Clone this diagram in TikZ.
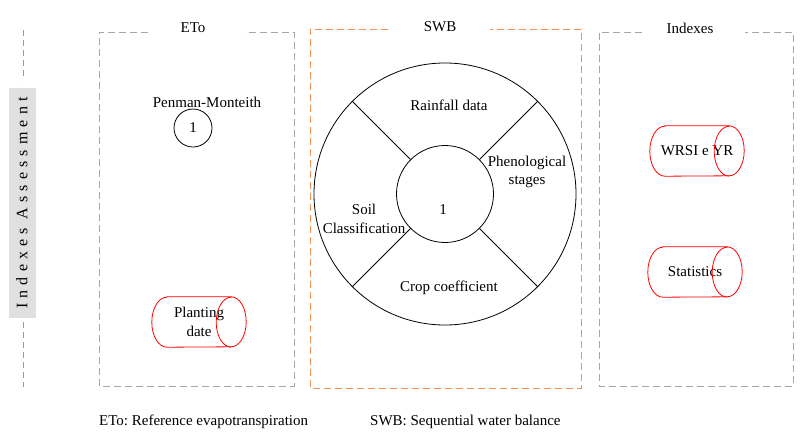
\documentclass[tikz,border=0pt]{standalone}
\usepackage{fontspec}
\setmainfont{Liberation Serif}
\frenchspacing

\definecolor{swborange}{RGB}{243,146,85}
\definecolor{sideblue}{RGB}{110,165,220}

\begin{document}
\begin{tikzpicture}[x=1pt, y=-1pt,
    every node/.style={font=\fontsize{15}{18.5}\selectfont},
    greyframe/.style={draw=black!35, dash pattern=on 7pt off 4pt, line width=0.9pt},
    orangeframe/.style={draw=swborange, dash pattern=on 7pt off 4pt, line width=1pt},
    sideline/.style={draw=sideblue, dash pattern=on 6pt off 4pt, line width=0.8pt},
    datastore/.style={align=center, minimum width=94pt, minimum height=50pt, inner sep=0pt},
    storeline/.style={draw=red, line width=0.8pt}]
    \useasboundingbox (0,0) rectangle (800,434);

    % side label
    \node[rotate=90, fill=black!12, minimum width=230pt, minimum height=27pt, inner sep=0pt,
        font=\fontsize{16}{18}\selectfont] (side) at (22,203) {\addfontfeature{LetterSpace=32}Indexes Assessment};
    \draw[sideline] (23,30) -- (23,80);
    \draw[sideline] (23,322) -- (23,387);

    % frames with titles
    \draw[greyframe] (148,32) -| (99,386) -| (294,32) -- (245,32);
    \draw[orangeframe] (388,29) -| (310,388) -| (581,29) -- (490,29);
    \draw[greyframe] (642,32) -| (599,386) -| (793,32) -- (745,32);
    \node (etotitle) at (193,28) {ETo};
    \node (swbtitle) at (440,27) {SWB};
    \node (idxtitle) at (690,28) {Indexes};

    % ETo
    \node (penman) at (207,102) {Penman-Monteith};
    \node[draw, circle, minimum size=38pt, line width=0.8pt] (pmnum) at (193,128) {1};
    \node[datastore] (planting) at (199,322) {Planting\\date};

    % SWB wheel
    \node[draw, circle, minimum size=262pt, line width=0.8pt] (wheel) at (445,194) {};
    \node[draw, circle, minimum size=97pt, line width=0.8pt] (hub) at (445,194) {};
    \foreach \a in {45,135,225,315} {
        \draw[line width=0.8pt] (hub.\a) -- (wheel.\a);
    }
    \node (hubnum) at (443,210) {1};
    \node (rain) at (449,105) {Rainfall data};
    \node[align=center] (pheno) at (527,172) {Phenological\\stages};
    \node[align=center] (soil) at (364,219) {Soil\\Classification};
    \node (crop) at (449,288) {Crop coefficient};

    % Indexes
    \node[datastore] (wrsi) at (697,151) {WRSI e YR};
    \node[datastore] (stats) at (695,272) {Statistics};

    % cylinder outlines
    \foreach \n in {planting,wrsi,stats} {
        \draw[storeline] ([xshift=15pt]\n.north west) -- ([xshift=-15pt]\n.north east)
            arc (90:-90:15pt and 25pt) -- ([xshift=15pt]\n.south west)
            arc (270:90:15pt and 25pt) -- cycle;
        \draw[storeline] ([xshift=-15pt]\n.south east) arc (-90:-270:15pt and 25pt);
    }

    % notes
    \node[anchor=base west, inner sep=0pt] (etonote) at (99,425) {ETo: Reference evapotranspiration};
    \node[anchor=base west, inner sep=0pt] (swbnote) at (370,425) {SWB: Sequential water balance};
\end{tikzpicture}
\end{document}
